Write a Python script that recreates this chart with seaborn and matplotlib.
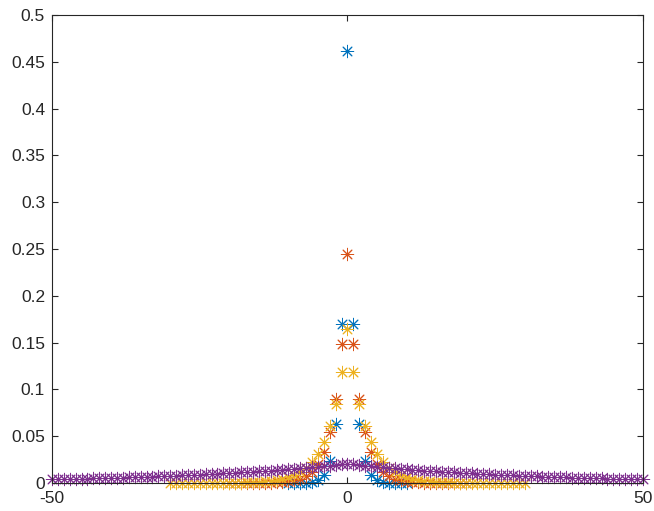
import matplotlib
matplotlib.use('Agg')
import numpy as np
import pandas as pd
import matplotlib.pyplot as plt
import seaborn as sns

# values, one series per colour
x_blue = list(range(-10, 11))
y_blue = [0.0000, 0.0001, 0.0002, 0.0004, 0.0012, 0.0031, 0.0085, 0.023, 0.063, 0.170,
          0.462,
          0.170, 0.063, 0.023, 0.0085, 0.0031, 0.0012, 0.0004, 0.0002, 0.0001, 0.0000]

x_orange = list(range(-20, 21))
y_orange = [0.0000, 0.0000, 0.0000, 0.0000, 0.0001, 0.0001, 0.0002, 0.0004, 0.0006, 0.0010,
            0.0016, 0.0027, 0.0045, 0.0074, 0.012, 0.020, 0.033, 0.055, 0.090, 0.148,
            0.245,
            0.148, 0.090, 0.055, 0.033, 0.020, 0.012, 0.0074, 0.0045, 0.0027, 0.0016,
            0.0010, 0.0006, 0.0004, 0.0002, 0.0001, 0.0001, 0.0000, 0.0000, 0.0000, 0.0000]

x_yellow = list(range(-30, 31))
y_yellow = [0.0000, 0.0000, 0.0000, 0.0000, 0.0000, 0.0001, 0.0001, 0.0001, 0.0001, 0.0001,
            0.0002, 0.0003, 0.0004, 0.0006, 0.0008, 0.0011, 0.0016, 0.0022, 0.0030, 0.0042,
            0.0059, 0.0082, 0.0115, 0.0160, 0.0223, 0.0312, 0.0435, 0.0607, 0.0847, 0.1182,
            0.165,
            0.1182, 0.0847, 0.0607, 0.0435, 0.0312, 0.0223, 0.0160, 0.0115, 0.0082, 0.0059,
            0.0042, 0.0030, 0.0022, 0.0016, 0.0011, 0.0008, 0.0006, 0.0004, 0.0003, 0.0002,
            0.0001, 0.0001, 0.0001, 0.0001, 0.0001, 0.0000, 0.0000, 0.0000, 0.0000, 0.0000]

x_purple = list(range(-50, 51))
y_purple = [0.0039, 0.0040, 0.0042, 0.0043, 0.0044, 0.0046, 0.0047, 0.0049, 0.0051, 0.0052,
            0.0054, 0.0056, 0.0058, 0.0060, 0.0062, 0.0064, 0.0066, 0.0068, 0.0071, 0.0073,
            0.0075, 0.0078, 0.0081, 0.0083, 0.0086, 0.0089, 0.0092, 0.0095, 0.0099, 0.0102,
            0.0105, 0.0109, 0.0113, 0.0116, 0.0120, 0.0124, 0.0129, 0.0133, 0.0137, 0.0142,
            0.0147, 0.0152, 0.0157, 0.0162, 0.0168, 0.0174, 0.0179, 0.0185, 0.0192, 0.0198,
            0.0205,
            0.0198, 0.0192, 0.0185, 0.0179, 0.0174, 0.0168, 0.0162, 0.0157, 0.0152, 0.0147,
            0.0142, 0.0137, 0.0133, 0.0129, 0.0124, 0.0120, 0.0116, 0.0113, 0.0109, 0.0105,
            0.0102, 0.0099, 0.0095, 0.0092, 0.0089, 0.0086, 0.0083, 0.0081, 0.0078, 0.0075,
            0.0073, 0.0071, 0.0068, 0.0066, 0.0064, 0.0062, 0.0060, 0.0058, 0.0056, 0.0054,
            0.0052, 0.0051, 0.0049, 0.0047, 0.0046, 0.0044, 0.0043, 0.0042, 0.0040, 0.0039]

series = [(x_blue, y_blue, "#0072BD"),
          (x_orange, y_orange, "#D95319"),
          (x_yellow, y_yellow, "#EDB120"),
          (x_purple, y_purple, "#7E2F8E")]

sns.set_style("ticks")
plt.rcParams['font.family'] = ['Liberation Sans', 'DejaVu Sans']

fig = plt.figure(figsize=(6.54, 5.11), dpi=100)
ax = fig.add_axes([0.0795, 0.0548, 0.9035, 0.9158])

for xs, ys, col in series:
    df = pd.DataFrame({"x": xs, "y": ys})
    sns.scatterplot(data=df, x="x", y="y", ax=ax, marker=(8, 2, 0), color=col,
                    s=80, linewidth=0.7, legend=False, clip_on=False)

ax.set_xlim(-50, 50)
ax.set_ylim(0, 0.5)
ax.set_xticks([-50, 0, 50])
ax.set_xticklabels(["-50", "0", "50"])
yt = np.round(np.arange(0, 0.51, 0.05), 2)
ax.set_yticks(yt)
ax.set_yticklabels(["0"] + ["%g" % v for v in yt[1:]])
ax.set_xlabel("")
ax.set_ylabel("")
for sp in ax.spines.values():
    sp.set_visible(True)
    sp.set_color("#262626")
    sp.set_linewidth(0.8)
ax.tick_params(direction="in", length=4, width=0.8, color="#262626",
               labelsize=12.5, labelcolor="#262626", top=True, right=True)
ax.tick_params(axis="x", pad=6)
ax.tick_params(axis="y", pad=5)
ax.set_facecolor("white")

fig.savefig("out.png", dpi=100)
